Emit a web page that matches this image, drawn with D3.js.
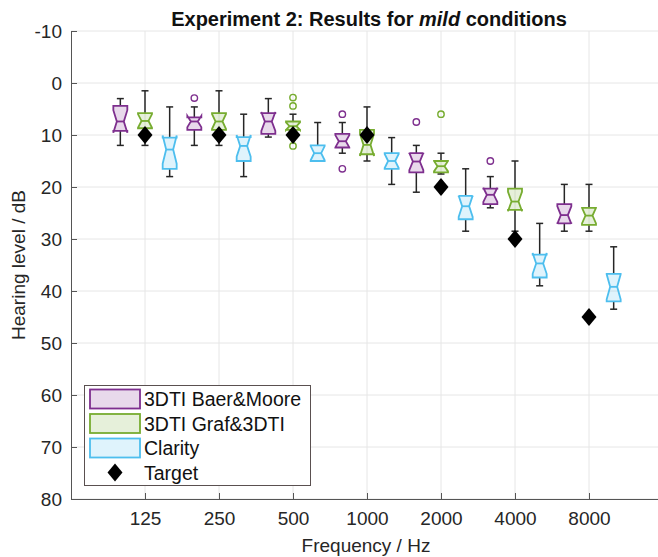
<!DOCTYPE html>
<html>
<head>
  <meta charset="UTF-8">
  <title>Experiment 2: Results for mild conditions</title>
  <script src="https://d3js.org/d3.v7.min.js"></script>
  <style>
    body { margin: 0; background: #fff; }
    svg { font-family: "Liberation Sans", Arial, sans-serif; }
    .axis text { font-size: 19px; fill: #262626; font-family: "Liberation Sans", Arial, sans-serif; }
  </style>
</head>
<body>
  <svg></svg>
  <script>
    const freqLabels = ['125', '250', '500', '1000', '2000', '4000', '8000'];
    const yTicks = [-10, 0, 10, 20, 30, 40, 50, 60, 70, 80];
    const target = [10, 10, 10, 10, 20, 30, 45];

    // [top whisker, q1, median, q3, bottom whisker] in dB
    const baerMoore = [
      [3.0, 4.4, 7.4, 9.2, 12.0],
      [4.6, 6.6, 7.4, 9.0, 12.0],
      [3.0, 5.8, 7.4, 9.8, 10.4],
      [7.6, 9.8, 11.2, 12.4, 13.5],
      [12.0, 13.5, 15.1, 17.2, 21.0],
      [18.0, 20.3, 21.5, 23.3, 24.0],
      [19.5, 23.3, 25.4, 27.0, 28.5]
    ];
    const baerMooreOut = [[], [2.9], [], [6.0, 16.5], [7.5], [15.0], []];

    const grafTDTI = [
      [1.5, 5.8, 7.3, 8.7, 12.0],
      [1.5, 5.8, 7.4, 9.0, 12.0],
      [6.0, 7.4, 8.3, 9.0, 10.5],
      [4.6, 9.0, 11.9, 13.7, 15.0],
      [13.5, 15.0, 16.0, 17.2, 17.5],
      [15.0, 20.3, 22.8, 24.4, 28.5],
      [19.5, 24.0, 25.5, 27.3, 28.5]
    ];
    const grafTDTIOut = [[], [], [2.8, 4.4, 12.1], [], [6.0], [], []];

    const clarity = [
      [4.6, 10.5, 12.8, 16.5, 18.0],
      [6.0, 10.4, 12.1, 15.0, 18.0],
      [7.6, 12.0, 13.5, 15.0, 15.0],
      [10.5, 13.5, 15.0, 16.5, 19.5],
      [16.5, 21.7, 23.7, 26.2, 28.5],
      [27.0, 33.0, 34.7, 37.4, 39.0],
      [31.5, 36.7, 39.2, 42.0, 43.5]
    ];
    const clarityOut = [[], [], [], [], [], [], []];

    const nSubjects = 12;

    const series = [
      { name: '3DTI Baer&Moore', color: '#7e2f8e', stats: baerMoore, out: baerMooreOut, offset: -1 / 3 },
      { name: '3DTI Graf&3DTI', color: '#77ac30', stats: grafTDTI, out: grafTDTIOut, offset: 0 },
      { name: 'Clarity', color: '#4dbeee', stats: clarity, out: clarityOut, offset: 1 / 3 }
    ];

    const W = 658, H = 557;
    const plotLeft = 71, plotTop = 31, plotBottom = 499;

    const svg = d3.select('svg').attr('width', W).attr('height', H);

    const x = d3.scaleLinear().domain([0, 8]).range([plotLeft, plotLeft + 8 * 74]);
    const y = d3.scaleLinear().domain([-10, 80]).range([plotTop, plotBottom]);

    // grid
    svg.append('g').selectAll('line')
      .data(yTicks).enter().append('line')
      .attr('x1', plotLeft).attr('x2', W)
      .attr('y1', d => y(d)).attr('y2', d => y(d))
      .attr('stroke', '#e6e6e6').attr('stroke-width', 1);
    svg.append('g').selectAll('line')
      .data(freqLabels).enter().append('line')
      .attr('x1', (d, i) => x(i + 1)).attr('x2', (d, i) => x(i + 1))
      .attr('y1', plotTop).attr('y2', plotBottom)
      .attr('stroke', '#e6e6e6').attr('stroke-width', 1);

    // axes
    const yAxis = svg.append('g')
      .attr('class', 'axis')
      .attr('transform', `translate(${plotLeft},0)`)
      .call(d3.axisLeft(y).tickValues(yTicks).tickFormat(d => String(d))
        .tickSizeInner(-6).tickSizeOuter(0).tickPadding(9));
    yAxis.select('.domain').attr('stroke', '#555');
    yAxis.selectAll('.tick line').attr('stroke', '#555');

    const xAxis = svg.append('g')
      .attr('class', 'axis')
      .attr('transform', `translate(0,${plotBottom})`)
      .call(d3.axisBottom(x).tickValues(d3.range(1, 8)).tickFormat(d => freqLabels[d - 1])
        .tickSizeInner(-6).tickSizeOuter(0).tickPadding(13));
    xAxis.select('.domain').attr('stroke', '#555');
    xAxis.selectAll('.tick line').attr('stroke', '#555');

    svg.append('text')
      .attr('x', 366).attr('y', 552)
      .attr('text-anchor', 'middle').attr('font-size', 19).attr('fill', '#262626')
      .text('Frequency / Hz');

    svg.append('text')
      .attr('transform', `translate(25,${(plotTop + plotBottom) / 2}) rotate(-90)`)
      .attr('text-anchor', 'middle').attr('font-size', 19).attr('fill', '#262626')
      .text('Hearing level / dB');

    const title = svg.append('text')
      .attr('x', 369).attr('y', 26)
      .attr('text-anchor', 'middle').attr('font-size', 20).attr('font-weight', 'bold')
      .attr('fill', '#111');
    title.append('tspan').text('Experiment 2: Results for ');
    title.append('tspan').attr('font-style', 'italic').text('mild');
    title.append('tspan').text(' conditions');

    // boxes
    const boxW = 14;
    const capW = 7;
    const plot = svg.append('g');

    series.forEach(s => {
      s.stats.forEach((st, i) => {
        const [wTop, q1, med, q3, wBot] = st;
        const cx = x(i + 1 + s.offset);
        const half = boxW / 2;
        const notch = 1.57 * (q3 - q1) / Math.sqrt(nSubjects);
        const nTop = med - notch, nBot = med + notch;
        const g = plot.append('g');

        // whiskers
        g.append('line').attr('x1', cx).attr('x2', cx)
          .attr('y1', y(wTop)).attr('y2', y(q1))
          .attr('stroke', '#262626').attr('stroke-width', 1.5);
        g.append('line').attr('x1', cx).attr('x2', cx)
          .attr('y1', y(q3)).attr('y2', y(wBot))
          .attr('stroke', '#262626').attr('stroke-width', 1.5);
        [wTop, wBot].forEach(v => {
          g.append('line').attr('x1', cx - capW / 2).attr('x2', cx + capW / 2)
            .attr('y1', y(v)).attr('y2', y(v))
            .attr('stroke', '#262626').attr('stroke-width', 1.5);
        });

        const depth = boxW * 0.25;
        const pts = [
          [cx - half, y(q1)], [cx - half, y(nTop)], [cx - half + depth, y(med)],
          [cx - half, y(nBot)], [cx - half, y(q3)], [cx + half, y(q3)],
          [cx + half, y(nBot)], [cx + half - depth, y(med)], [cx + half, y(nTop)],
          [cx + half, y(q1)]
        ];
        g.append('polygon')
          .attr('points', pts.map(p => p.join(',')).join(' '))
          .attr('fill', s.color).attr('fill-opacity', 0.18)
          .attr('stroke', s.color).attr('stroke-width', 1.8)
          .attr('stroke-linejoin', 'miter');
        g.append('line')
          .attr('x1', cx - half + depth).attr('x2', cx + half - depth)
          .attr('y1', y(med)).attr('y2', y(med))
          .attr('stroke', s.color).attr('stroke-width', 1.8);

        s.out[i].forEach(v => {
          g.append('circle').attr('cx', cx).attr('cy', y(v)).attr('r', 3.2)
            .attr('fill', 'none').attr('stroke', s.color).attr('stroke-width', 1.4);
        });
      });
    });

    const diamond = (cx, cy) => `M${cx},${cy - 9}L${cx + 7.5},${cy}L${cx},${cy + 9}L${cx - 7.5},${cy}Z`;
    plot.selectAll('.target')
      .data(target).enter().append('path')
      .attr('class', 'target')
      .attr('d', (d, i) => diamond(x(i + 1), y(d)))
      .attr('fill', '#000');

    // legend
    const lg = svg.append('g');
    lg.append('rect').attr('x', 84.5).attr('y', 385.5).attr('width', 226).attr('height', 100)
      .attr('fill', '#fff').attr('stroke', '#5a5050').attr('stroke-width', 1);
    series.forEach((s, i) => {
      const cy = 399 + i * 24.5;
      lg.append('rect').attr('x', 90).attr('y', cy - 9.5).attr('width', 50).attr('height', 19)
        .attr('fill', s.color).attr('fill-opacity', 0.18)
        .attr('stroke', s.color).attr('stroke-width', 1.8);
      lg.append('text').attr('x', 144).attr('y', cy + 7).attr('font-size', 19.5).attr('fill', '#111')
        .text(s.name);
    });
    lg.append('path').attr('d', diamond(115, 472.5)).attr('fill', '#000');
    lg.append('text').attr('x', 144).attr('y', 479.5).attr('font-size', 19.5).attr('fill', '#111')
      .text('Target');
  </script>
</body>
</html>
